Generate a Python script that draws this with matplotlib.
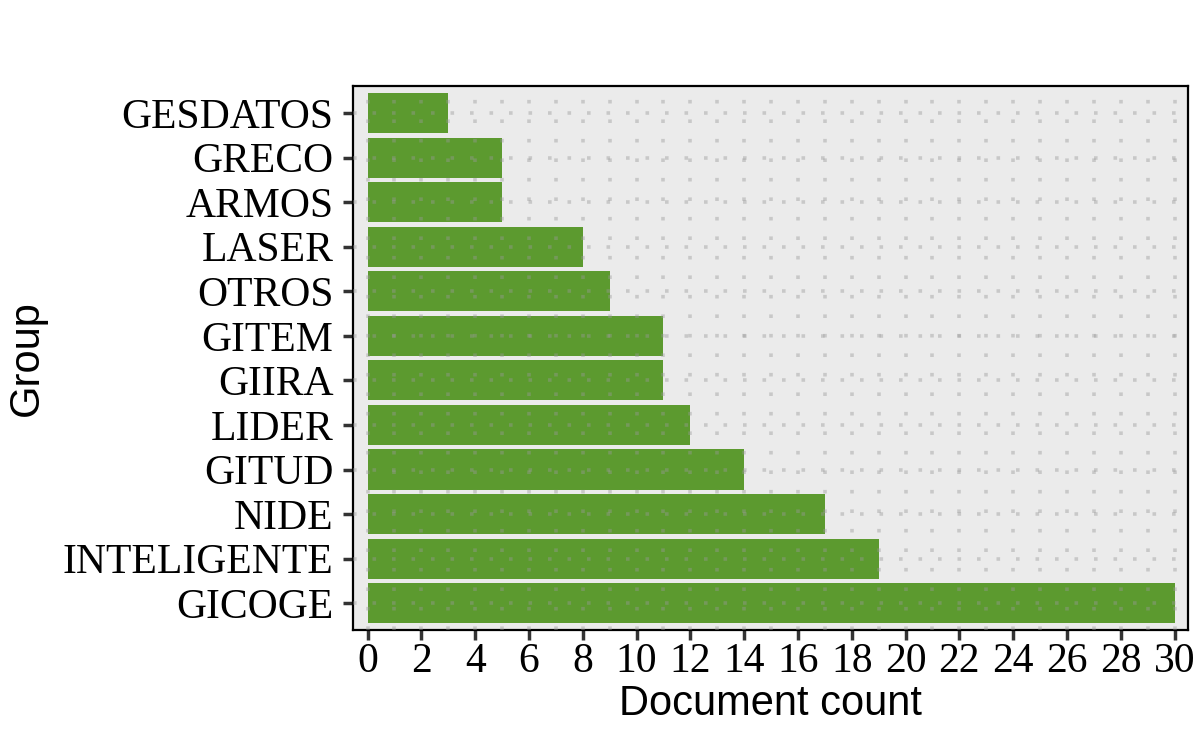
import matplotlib
matplotlib.use("Agg")
import matplotlib.pyplot as plt
import numpy as np

groups = ["GICOGE", "INTELIGENTE", "NIDE", "GITUD", "LIDER", "GIIRA",
          "GITEM", "OTROS", "LASER", "ARMOS", "GRECO", "GESDATOS"]
counts = [30, 19, 17, 14, 12, 11, 11, 9, 8, 5, 5, 3]
x_ticks = list(range(0, 31, 2))

BAR_COLOR = "#5c9a2f"
BG_COLOR = "#ebebeb"

fig = plt.figure(figsize=(12, 7.5), dpi=100)
ax = fig.add_axes([0.294, 0.16, 0.696, 0.725])
ax.set_facecolor(BG_COLOR)

y = np.arange(len(groups))
ax.barh(y, counts, height=0.9, color=BAR_COLOR, zorder=2)

# dotted grid drawn over the bars, like the original
grid_kw = dict(color="#999999", alpha=0.42, linewidth=2.6,
               linestyle=(0, (1, 4.4)), zorder=3)
for xv in range(0, 31):
    ax.axvline(xv, **grid_kw)
for yv in y:
    ax.axhline(yv, **grid_kw)

ax.set_xlim(-0.55, 30.5)
ax.set_ylim(-0.6, len(groups) - 0.4)
ax.set_xticks(x_ticks)
ax.set_xticklabels([str(v) for v in x_ticks], family="Liberation Serif", fontsize=30)
ax.set_yticks(y)
ax.set_yticklabels(groups, family="Liberation Serif", fontsize=30)
ax.tick_params(axis="both", length=7, width=2.5, color="#333333")
ax.tick_params(axis="y", pad=7)
ax.tick_params(axis="x", pad=2)

for side in ax.spines.values():
    side.set_color("black")
    side.set_linewidth(1.6)

ax.set_xlabel("Document count", family="Liberation Sans", fontsize=30, labelpad=2)
ax.set_ylabel("Group", family="Liberation Sans", fontsize=30, labelpad=11)

fig.savefig("out.png", dpi=100)
